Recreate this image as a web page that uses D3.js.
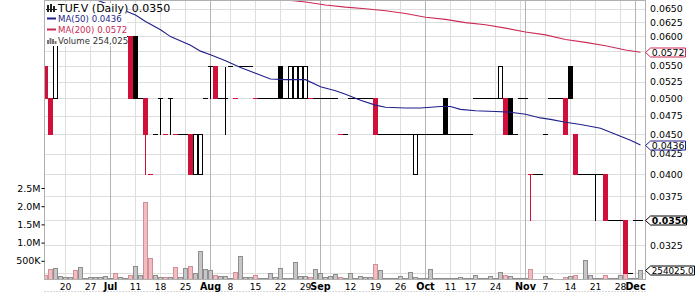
<!DOCTYPE html>
<html>
<head>
<meta charset="utf-8">
<script src="https://cdn.jsdelivr.net/npm/d3@7"></script>
<style>
  html, body { margin: 0; padding: 0; background: #fff; }
  svg { display: block; font-family: "DejaVu Sans", Verdana, sans-serif; }
</style>
</head>
<body>
<svg id="chart" width="700" height="293"></svg>
<script>
// trading days 2011 (MM-DD)
const tradeDates = [
  "06-14","06-15","06-16","06-17","06-20","06-21","06-22","06-23","06-24","06-27",
  "06-28","06-29","06-30","07-04","07-05","07-06","07-07","07-08","07-11","07-12",
  "07-13","07-14","07-15","07-18","07-19","07-20","07-21","07-22","07-25","07-26",
  "07-27","07-28","07-29","08-02","08-03","08-04","08-05","08-08","08-09","08-10",
  "08-11","08-12","08-15","08-16","08-17","08-18","08-19","08-22","08-23","08-24",
  "08-25","08-26","08-29","08-30","08-31","09-01","09-02","09-06","09-07","09-08",
  "09-09","09-12","09-13","09-14","09-15","09-16","09-19","09-20","09-21","09-22",
  "09-23","09-26","09-27","09-28","09-29","09-30","10-03","10-04","10-05","10-06",
  "10-07","10-11","10-12","10-13","10-14","10-17","10-18","10-19","10-20","10-21",
  "10-24","10-25","10-26","10-27","10-28","10-31","11-01","11-02","11-03","11-04",
  "11-07","11-08","11-09","11-10","11-11","11-14","11-15","11-16","11-17","11-18",
  "11-21","11-22","11-23","11-24","11-25","11-28","11-29","11-30","12-01","12-02"
];

const openPx = [
  .055,.050,.050,.060,.060,.060,.060,.060,.065,.065,
  .065,.065,.065,.065,.060,.060,.060,.060,.060,.050,
  .050,.040,.045,.050,.045,.050,.045,.045,.045,.045,
  .040,.040,.050,.055,.055,.050,.050,.055,.050,.055,
  .055,.055,.050,.050,.050,.050,.050,.055,.050,.050,
  .050,.050,.050,.050,.050,.050,.050,.050,.050,.045,
  .045,.050,.050,.050,.050,.050,.050,.045,.045,.045,
  .045,.045,.045,.045,.040,.045,.045,.045,.045,.045,
  .050,.045,.045,.045,.045,.045,.050,.050,.050,.050,
  .050,.050,.050,.050,.045,.050,.050,.040,.040,.040,
  .045,.050,.050,.050,.050,.055,.045,.040,.040,.040,
  .040,.040,.040,.035,.035,.035,.035,.030,.035,.035
];
const highPx = [
  .055,.050,.060,.060,.060,.065,.060,.065,.065,.065,
  .065,.065,.065,.065,.060,.060,.060,.060,.060,.050,
  .050,.040,.045,.050,.045,.050,.045,.045,.045,.045,
  .045,.045,.050,.055,.055,.050,.055,.055,.050,.055,
  .055,.055,.050,.050,.050,.050,.050,.055,.050,.055,
  .055,.055,.055,.050,.050,.050,.050,.050,.050,.045,
  .045,.050,.050,.050,.050,.050,.050,.045,.045,.045,
  .045,.045,.045,.045,.045,.045,.045,.045,.045,.045,
  .050,.045,.045,.045,.045,.045,.050,.050,.050,.050,
  .050,.055,.050,.050,.045,.050,.050,.040,.040,.040,
  .045,.050,.050,.050,.050,.055,.045,.040,.040,.040,
  .040,.040,.040,.035,.035,.035,.035,.030,.035,.035
];
const lowPx = [
  .050,.045,.050,.060,.060,.060,.060,.060,.065,.065,
  .065,.065,.065,.065,.060,.060,.060,.050,.050,.050,
  .040,.040,.045,.045,.045,.045,.045,.045,.045,.040,
  .040,.040,.050,.050,.050,.050,.045,.055,.050,.055,
  .055,.055,.050,.050,.050,.050,.050,.050,.050,.050,
  .050,.050,.050,.050,.050,.050,.050,.050,.050,.045,
  .045,.050,.050,.050,.050,.050,.045,.045,.045,.045,
  .045,.045,.045,.045,.040,.045,.045,.045,.045,.045,
  .045,.045,.045,.045,.045,.045,.050,.050,.050,.050,
  .050,.050,.045,.045,.045,.050,.050,.035,.040,.040,
  .045,.050,.050,.050,.045,.050,.040,.040,.040,.040,
  .035,.040,.035,.035,.035,.035,.030,.030,.035,.035
];
const closePx = [
  .050,.045,.060,.060,.060,.065,.060,.065,.065,.065,
  .065,.065,.065,.065,.060,.060,.060,.050,.050,.050,
  .045,.040,.045,.050,.045,.050,.045,.045,.045,.040,
  .045,.045,.050,.055,.050,.050,.050,.055,.050,.055,
  .055,.055,.050,.050,.050,.050,.050,.050,.050,.055,
  .055,.055,.055,.050,.050,.050,.050,.050,.050,.045,
  .045,.050,.050,.050,.050,.050,.045,.045,.045,.045,
  .045,.045,.045,.045,.045,.045,.045,.045,.045,.045,
  .045,.045,.045,.045,.045,.045,.050,.050,.050,.050,
  .050,.055,.045,.045,.045,.050,.050,.040,.040,.040,
  .045,.050,.050,.050,.045,.050,.040,.040,.040,.040,
  .040,.040,.035,.035,.035,.035,.030,.030,.035,.035
];
const volume = [
  110000,267000,295000,83000,47000,47000,248000,322000,28000,47000,
  47000,66000,83000,28000,157000,66000,20000,110000,358000,110000,
  2113000,570000,110000,47000,66000,66000,322000,47000,303000,358000,
  157000,775000,270000,235000,105000,75000,80000,40000,205000,632000,
  55000,45000,110000,30000,30000,157000,45000,305000,35000,35000,
  465000,70000,70000,45000,267000,157000,47000,90000,130000,66000,
  20000,157000,20000,75000,47000,47000,405000,248000,20000,20000,
  20000,75000,15000,185000,55000,20000,20000,267000,20000,15000,
  25000,15000,15000,66000,15000,20000,110000,20000,40000,75000,
  40000,180000,110000,83000,30000,15000,15000,285000,10000,10000,
  75000,25000,10000,10000,47000,75000,110000,10000,523000,115000,
  20000,20000,105000,15000,15000,115000,430000,20000,30000,254025
];

// moving averages at sample days
const ma50Dates = ["06-27","06-29","07-04","07-06","07-08","07-11","07-13","07-18","07-20","07-26",
  "07-28","08-02","08-05","08-10","08-15","08-18","08-23","08-29","09-01","09-07",
  "09-09","09-14","09-19","09-21","09-27","09-30","10-06","10-11","10-13","10-18",
  "10-24","10-27","11-01","11-04","11-08","11-11","11-16","11-22","11-25","11-30","12-02"];
const ma50Vals = [.0672,.0664,.0657,.0650,.0642,.0638,.0626,.0611,.0599,.0584,
  .0574,.0568,.0558,.0547,.0538,.0529,.0528,.0528,.0517,.0511,
  .0506,.0497,.0490,.0487,.0486,.0486,.0488,.0488,.0484,.0482,
  .0481,.0480,.0477,.0472,.0470,.0466,.0463,.0458,.0450,.0442,.0436];
const ma200Dates = ["08-11","08-19","08-29","09-02","09-09","09-15","09-21","09-27","10-03","10-07",
  "10-14","10-20","10-26","11-01","11-07","11-11","11-17","11-23","11-29","12-02"];
const ma200Vals = [.0676,.0669,.0663,.0657,.0653,.0650,.0646,.0641,.0634,.0630,
  .0624,.0620,.0614,.0607,.0602,.0594,.0589,.0583,.0576,.0572];

// axis ticks
const priceGrid = [.0300,.0325,.0350,.0375,.0400,.0425,.0450,.0475,.0500,.0525,.0550,.0575,.0600,.0625,.0650];
const priceLabels = [.0325,.0375,.0400,.0425,.0450,.0475,.0500,.0525,.0550,.0600,.0625,.0650];
const volTicks = [500000,1000000,1500000,2000000,2500000];
const volTickLabels = ["500K","1.0M","1.5M","2.0M","2.5M"];
const weekGrid = ["06-20","06-27","07-04","07-11","07-18","07-25","08-02","08-08","08-15","08-22","08-29",
  "09-06","09-12","09-19","09-26","10-03","10-11","10-17","10-24","10-31","11-07","11-14","11-21","11-28"];
const monthGrid = ["07-04","08-02","09-01","10-03","11-01","12-01"];
const xLabelDates = ["06-20","06-27","07-04","07-11","07-18","07-25","08-02","08-08","08-15","08-22","08-29",
  "09-01","09-12","09-19","09-26","10-03","10-11","10-17","10-24","11-01","11-07","11-14","11-21","11-28","12-01"];
const xLabels = ["20","27","Jul","11","18","25","Aug","8","15","22","29",
  "Sep","12","19","26","Oct","11","17","24","Nov","7","14","21","28","Dec"];
const monthNames = ["Jul","Aug","Sep","Oct","Nov","Dec"];

const RED = "#d0103a", MA50C = "#1f1f8a", MA200C = "#cc2a55";

const svg = d3.select("#chart");
const plot = { left: 44.5, right: 645.5, top: 0.5, bottom: 279.5 };

svg.append("rect").attr("width", 700).attr("height", 293).attr("fill", "#fff");

const x = d3.scaleBand().domain(tradeDates).range([43, 643]);
const cx = d => x(d) + x.bandwidth() / 2;
const y = d3.scaleLog().domain([0.030, 0.065]).range([272.6, 8.7]);
const v = d3.scaleLinear().domain([0, 2500000]).range([279, 188]);
const crisp = n => Math.round(n) + 0.5;

svg.append("clipPath").attr("id", "plotclip")
  .append("rect")
  .attr("x", plot.left).attr("y", plot.top)
  .attr("width", plot.right - plot.left).attr("height", plot.bottom - plot.top);

const g = svg.append("g").attr("clip-path", "url(#plotclip)");

// grid
g.selectAll("line.hgrid").data(priceGrid).enter().append("line")
  .attr("x1", plot.left).attr("x2", plot.right)
  .attr("y1", d => crisp(y(d))).attr("y2", d => crisp(y(d)))
  .attr("stroke", "#dddddd");
g.selectAll("line.wgrid").data(weekGrid).enter().append("line")
  .attr("x1", cx).attr("x2", cx)
  .attr("y1", plot.top).attr("y2", plot.bottom)
  .attr("stroke", "#dddddd");
g.selectAll("line.mgrid").data(monthGrid).enter().append("line")
  .attr("x1", cx).attr("x2", cx)
  .attr("y1", plot.top).attr("y2", plot.bottom)
  .attr("stroke", "#b4b4b4");

// day records
const days = tradeDates.map((d, i) => ({
  date: d, o: openPx[i], h: highPx[i], l: lowPx[i], c: closePx[i], vol: volume[i],
  down: closePx[i] < (i > 0 ? closePx[i - 1] : openPx[i])
}));

// volume bars
g.selectAll("rect.vol").data(days).enter().append("rect")
  .attr("x", d => x(d.date) + 0.5)
  .attr("width", 4)
  .attr("y", d => crisp(v(d.vol)))
  .attr("height", d => Math.max(0, 279 - crisp(v(d.vol))))
  .attr("fill", d => d.down ? "#f2bcc1" : "#c6c6c6")
  .attr("stroke", d => d.down ? "#cf9197" : "#8e8e8e")
  .attr("shape-rendering", "crispEdges");

// candles
const candles = g.selectAll("g.candle").data(days).enter().append("g")
  .attr("shape-rendering", "crispEdges");

candles.append("line")
  .attr("x1", d => cx(d.date)).attr("x2", d => cx(d.date))
  .attr("y1", d => crisp(y(d.h))).attr("y2", d => crisp(y(d.l)))
  .attr("stroke", d => d.down ? RED : "#000");

candles.filter(d => d.o === d.c).append("line")
  .attr("x1", d => x(d.date)).attr("x2", d => x(d.date) + x.bandwidth())
  .attr("y1", d => crisp(y(d.c))).attr("y2", d => crisp(y(d.c)))
  .attr("stroke", d => d.down ? RED : "#000");

candles.filter(d => d.o !== d.c).append("rect")
  .attr("x", d => x(d.date) + 0.5)
  .attr("width", 4)
  .attr("y", d => crisp(y(Math.max(d.o, d.c))))
  .attr("height", d => crisp(y(Math.min(d.o, d.c))) - crisp(y(Math.max(d.o, d.c))))
  .attr("fill", d => d.c > d.o ? "#fff" : (d.down ? RED : "#000"))
  .attr("stroke", d => d.down ? RED : "#000");

// moving averages
const maLine = d3.line().x(d => cx(d[0])).y(d => y(d[1]));
g.append("path")
  .datum(d3.zip(ma200Dates, ma200Vals))
  .attr("fill", "none").attr("stroke", MA200C).attr("stroke-width", 1.1)
  .attr("d", maLine);
g.append("path")
  .datum(d3.zip(ma50Dates, ma50Vals))
  .attr("fill", "none").attr("stroke", MA50C).attr("stroke-width", 1.1)
  .attr("d", maLine);

// frame
svg.append("rect")
  .attr("x", plot.left).attr("y", plot.top)
  .attr("width", plot.right - plot.left).attr("height", plot.bottom - plot.top)
  .attr("fill", "none").attr("stroke", "#b0b0b0");
svg.append("line")
  .attr("x1", plot.left).attr("x2", plot.right).attr("y1", 291.5).attr("y2", 291.5)
  .attr("stroke", "#b0b0b0").attr("stroke-dasharray", "1,2");

// legend
const leg = svg.append("g");
leg.append("rect").attr("x", 45).attr("y", 3).attr("width", 82).attr("height", 43).attr("fill", "#fff");
// candle icon
[[47, 5, 7], [50, 4, 8], [53, 6, 6]].forEach(([ix, iy, ih]) => {
  leg.append("rect").attr("x", ix).attr("y", iy).attr("width", 2).attr("height", ih).attr("fill", "#222");
});
leg.append("line").attr("x1", 46).attr("x2", 57).attr("y1", 9.5).attr("y2", 9.5).attr("stroke", "#222");
leg.append("text").attr("x", 58).attr("y", 11.7).attr("font-size", 11).attr("fill", "#000")
  .text("TUF.V (Daily) 0.0350");
leg.append("line").attr("x1", 47).attr("x2", 56).attr("y1", 18.5).attr("y2", 18.5)
  .attr("stroke", MA50C).attr("stroke-width", 2);
leg.append("text").attr("x", 58).attr("y", 21.8).attr("font-size", 8.6).attr("fill", MA50C)
  .text("MA(50) 0.0436");
leg.append("line").attr("x1", 47).attr("x2", 56).attr("y1", 29.5).attr("y2", 29.5)
  .attr("stroke", MA200C).attr("stroke-width", 2);
leg.append("text").attr("x", 58).attr("y", 32.8).attr("font-size", 8.6).attr("fill", MA200C)
  .text("MA(200) 0.0572");
[[47, 40, 4], [49.5, 38, 6], [52, 39, 5], [54.5, 41, 3]].forEach(([ix, iy, ih]) => {
  leg.append("rect").attr("x", ix).attr("y", iy).attr("width", 2).attr("height", ih).attr("fill", "#777");
});
leg.append("text").attr("x", 58).attr("y", 44).attr("font-size", 8.6).attr("fill", "#333")
  .text("Volume 254,025");

// right price axis
const yAxis = svg.append("g")
  .attr("transform", `translate(${plot.right},0)`)
  .call(d3.axisRight(y).tickValues(priceLabels).tickFormat(d3.format(".4f")).tickSize(0).tickPadding(4.5));
yAxis.select(".domain").remove();
yAxis.selectAll("text").attr("font-size", 9.4).attr("font-family", "DejaVu Sans").attr("fill", "#000");

// left volume axis
const vAxis = svg.append("g")
  .attr("transform", `translate(${plot.left},0)`)
  .call(d3.axisLeft(v).tickValues(volTicks).tickFormat((d, i) => volTickLabels[i]).tickSize(3).tickPadding(1));
vAxis.select(".domain").remove();
vAxis.selectAll("text").attr("font-size", 9.5).attr("font-family", "DejaVu Sans").attr("fill", "#000");

// date labels
svg.selectAll("text.xlab").data(xLabelDates).enter().append("text")
  .attr("x", d => cx(d))
  .attr("y", 289.5)
  .attr("text-anchor", "middle")
  .attr("font-size", (d, i) => monthNames.includes(xLabels[i]) ? 9.6 : 9.2)
  .attr("font-weight", (d, i) => monthNames.includes(xLabels[i]) ? "bold" : "normal")
  .text((d, i) => xLabels[i]);

// last value tags
const tags = [
  { yv: y(0.0572), text: "0.0572", color: MA200C, bold: false, w: 35, fs: 9.4 },
  { yv: y(0.0436), text: "0.0436", color: MA50C, bold: false, w: 35, fs: 9.4 },
  { yv: y(0.0350), text: "0.0350", color: "#000", bold: true, w: 36, fs: 9.4 },
  { yv: v(254025), text: "254025.0", color: "#000", bold: false, w: 44, fs: 8.8 }
];
tags.forEach(t => {
  const cy = Math.round(t.yv) + 0.5, x0 = 645.5, x1 = 650.5;
  svg.append("path")
    .attr("d", `M${x0},${cy} L${x1},${cy - 4.5} L${x1 + t.w},${cy - 4.5} L${x1 + t.w},${cy + 4.5} L${x1},${cy + 4.5} Z`)
    .attr("fill", "#fff").attr("stroke", t.color);
  svg.append("text")
    .attr("x", x1 + 1.2).attr("y", cy + 3.3)
    .attr("font-size", t.fs)
    .attr("font-weight", t.bold ? "bold" : "normal")
    .attr("fill", "#000")
    .text(t.text);
});
</script>
</body>
</html>
